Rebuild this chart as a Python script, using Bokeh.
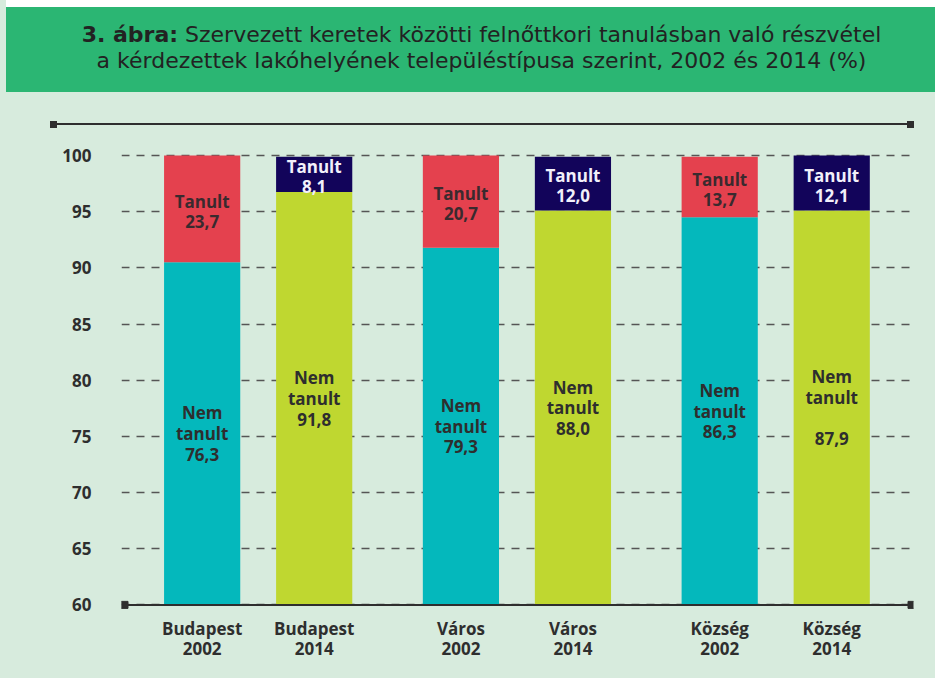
from bokeh.plotting import figure
from bokeh.models import Range1d, FixedTicker, Div, ColumnDataSource
from bokeh.layouts import column
from bokeh.embed import file_html
from bokeh.resources import INLINE
from bokeh.core.properties import value

# ---------------- data ----------------
groups = ["Budapest", "Város", "Község"]
years = ["2002", "2014"]
# labelled percentages
nem_tanult = [76.3, 91.8, 79.3, 88.0, 86.3, 87.9]
tanult = [23.7, 8.1, 20.7, 12.0, 13.7, 12.1]
# segment boundary and bar top as drawn in the picture
split = [90.5, 96.75, 91.8, 95.1, 94.5, 95.1]
top = [100.0, 99.9, 100.0, 99.9, 99.9, 100.0]
nem_blank_line = [0, 0, 0, 0, 0, 1]
y_ticks = [60, 65, 70, 75, 80, 85, 90, 95, 100]
y_base = 60

title_bold = "3. ábra:"
title_line1 = "Szervezett keretek közötti felnőttkori tanulásban való részvétel"
title_line2 = "a kérdezettek lakóhelyének településtípusa szerint, 2002 és 2014 (%)"

# ---------------- style ----------------
BG = "#D7EBDD"
HEADER = "#2BB673"
TEAL = "#04B8BC"
RED = "#E4414E"
LIME = "#BFD730"
NAVY = "#12045A"
DARK = "#2E2E2E"
FONT = "Open Sans"
TITLE_FONT = "DejaVu Sans"
W = 929          # content width (after 6px left margin)

bottom_color = {"2002": TEAL, "2014": LIME}
top_color = {"2002": RED, "2014": NAVY}
top_text_color = {"2002": "#3A2A2E", "2014": "#F2F0FA"}

PAIR = 1.0
GROUP = 2.31
x0, x1 = -0.72, 6.35
TAN_LABEL_SHIFT = -0.2   # labels sit slightly below the segment centre


def fmt(v):
    return f"{v:.1f}".replace(".", ",")


xs, cats, bcol, tcol, ttcol = [], [], [], [], []
for gi, g in enumerate(groups):
    for yi, y in enumerate(years):
        xs.append(gi * GROUP + yi * PAIR)
        cats.append(f"{g}\n{y}")
        bcol.append(bottom_color[y])
        tcol.append(top_color[y])
        ttcol.append(top_text_color[y])

nem_text = []
for v, b in zip(nem_tanult, nem_blank_line):
    gap = "\n" * b
    nem_text.append(f"Nem\ntanult\n{gap}{fmt(v)}")
tan_text = [f"Tanult\n{fmt(v)}" for v in tanult]

src = ColumnDataSource(dict(
    x=xs, base=[y_base] * len(xs), split=split, top=top,
    bcol=bcol, tcol=tcol, ttcol=ttcol,
    nem_y=[(y_base + s) / 2 for s in split],
    tan_y=[(s + t) / 2 + TAN_LABEL_SHIFT for s, t in zip(split, top)],
    nem_text=nem_text, tan_text=tan_text,
))

# ---------------- header + top rule (HTML) ----------------
sq = f"position:absolute;top:121px;width:7px;height:7px;background:{DARK};"
header_html = (
    f'<div style="position:relative;width:{W}px;height:140px;background:#ffffff;">'
    f'<div style="position:absolute;left:0;top:7px;width:{W}px;height:85px;'
    f'background:{HEADER};"></div>'
    f'<div style="position:absolute;left:0;top:22px;width:{W}px;padding-left:22px;'
    f'box-sizing:border-box;text-align:center;font-family:\'{TITLE_FONT}\';font-size:22px;'
    f'line-height:26px;color:#222;white-space:nowrap;">'
    f'<b>{title_bold}</b> {title_line1}<br>{title_line2}</div>'
    f'<div style="position:absolute;left:0;top:92px;width:{W}px;height:50px;'
    f'background:{BG};"></div>'
    f'<div style="position:absolute;left:47px;top:123px;width:858px;height:2px;'
    f'background:{DARK};"></div>'
    f'<div style="{sq}left:44px;"></div>'
    f'<div style="{sq}left:901px;"></div>'
    f'</div>'
)
header = Div(text=header_html, width=W, height=140, margin=(0, 0, 0, 6),
             styles={"background-color": BG})

# ---------------- main chart ----------------
p = figure(width=W, height=538, x_range=Range1d(x0, x1), y_range=Range1d(59.5, 100.27),
           toolbar_location=None, output_backend="svg", margin=(0, 0, 0, 6),
           min_border_left=115, min_border_right=22, min_border_top=12,
           min_border_bottom=68, background_fill_color=BG, border_fill_color=BG,
           outline_line_color=None)

p.vbar(x="x", bottom="base", top="split", width=0.68, fill_color="bcol",
       line_color=None, source=src)
p.vbar(x="x", bottom="split", top="top", width=0.68, fill_color="tcol",
       line_color=None, source=src)

# bottom rule
px_unit = (x1 - x0) / 792
bx = [x0 + 3 * px_unit, x1 - 2 * px_unit]
p.segment(x0=bx[0], y0=y_base, x1=bx[1], y1=y_base, line_width=2, line_color=DARK)
p.scatter(x=bx, y=[y_base, y_base], marker="square", size=7,
          fill_color=DARK, line_color=DARK)

p.text(x="x", y="nem_y", text="nem_text", source=src, text_align="center",
       text_baseline="middle", text_font=value(FONT), text_font_style="bold",
       text_font_size="17px", text_color=DARK, text_line_height=0.9)
p.text(x="x", y="tan_y", text="tan_text", source=src, text_align="center",
       text_baseline="middle", text_font=value(FONT), text_font_style="bold",
       text_font_size="17px", text_color="ttcol", text_line_height=0.86)

# axes
p.yaxis.ticker = FixedTicker(ticks=y_ticks)
p.yaxis.axis_line_color = None
p.yaxis.major_tick_line_color = None
p.yaxis.minor_tick_line_color = None
p.yaxis.major_label_standoff = 24
p.yaxis.major_label_text_font = FONT
p.yaxis.major_label_text_font_style = "bold"
p.yaxis.major_label_text_font_size = "17px"
p.yaxis.major_label_text_color = DARK

p.xaxis.ticker = FixedTicker(ticks=xs)
p.xaxis.major_label_overrides = {x: c for x, c in zip(xs, cats)}
p.xaxis.axis_line_color = None
p.xaxis.major_tick_line_color = None
p.xaxis.minor_tick_line_color = None
p.xaxis.major_label_standoff = 0
p.xaxis.major_label_text_font = FONT
p.xaxis.major_label_text_font_style = "bold"
p.xaxis.major_label_text_font_size = "17px"
p.xaxis.major_label_text_color = DARK
p.xaxis.major_label_text_line_height = 0.9

p.xgrid.grid_line_color = None
p.ygrid.ticker = FixedTicker(ticks=y_ticks)
p.ygrid.grid_line_color = "#555555"
p.ygrid.grid_line_width = 1.3
p.ygrid.grid_line_dash = "8 7"

layout = column(header, p, spacing=0, styles={"background-color": BG})
open("out.html", "w").write(file_html(layout, INLINE))
